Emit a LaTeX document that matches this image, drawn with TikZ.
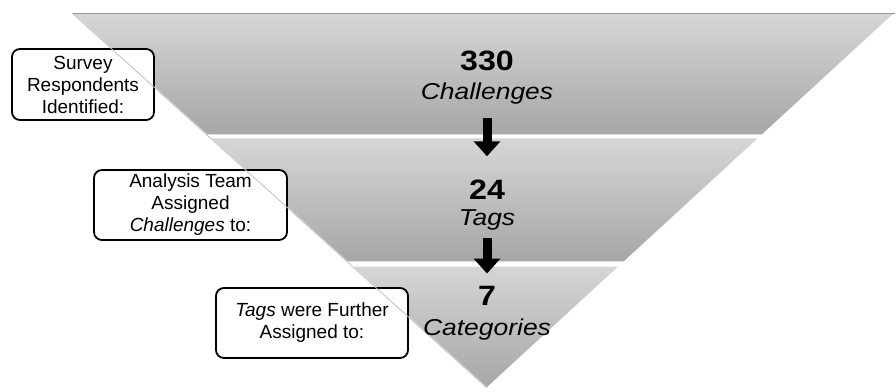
\documentclass[tikz,border=0pt]{standalone}
\usepackage{fontspec}
\setmainfont{Liberation Sans}
\newfontfamily\widefont[FakeStretch=1.15]{Liberation Sans}
\usetikzlibrary{arrows.meta,calc,positioning}

\definecolor{bandlight}{RGB}{214,214,214}
\definecolor{banddark}{RGB}{166,166,166}
\definecolor{edgegray}{RGB}{150,150,150}

\tikzset{
  band/.style={top color=bandlight, bottom color=banddark, draw=white, line width=1.2pt},
  labelbox/.style={draw=black, line width=1.8pt, rounded corners=8pt, fill=white,
    align=center, inner sep=0pt, font=\fontsize{19}{22}\selectfont},
  count/.style={anchor=base, inner sep=0pt, font=\widefont\bfseries\fontsize{28}{30}\selectfont},
  what/.style={anchor=base, inner sep=0pt, font=\widefont\itshape\fontsize{23}{26}\selectfont},
  downarrow/.style={line width=9pt, -{Triangle[width=26pt,length=15pt]}},
}

\begin{document}
\begin{tikzpicture}[x=1pt,y=-1pt]
    \useasboundingbox (0,0) rectangle (896,391);
    \coordinate (tl) at (72,13);
    \coordinate (tr) at (895,13);
    \coordinate (apex) at (487,388);

    % funnel bands
    \path[band] (tl) -- (tr) -- ($(tr)!0.325!(apex)$) -- ($(tl)!0.325!(apex)$) -- cycle;
    \path[band] ($(tl)!0.333!(apex)$) -- ($(tr)!0.333!(apex)$) -- ($(tr)!0.664!(apex)$) -- ($(tl)!0.664!(apex)$) -- cycle;
    \path[band] ($(tl)!0.675!(apex)$) -- ($(tr)!0.675!(apex)$) -- (apex) -- cycle;
    \draw[edgegray, line width=1pt] (tl) -- (tr);

    % boxes on the left
    \node[labelbox, minimum width=142pt, minimum height=71pt] (survey) at (83,84.5) {Survey\\Respondents\\Identified:};
    \node[labelbox, minimum width=193pt, minimum height=70pt] (team) at (190.5,205) {Analysis Team\\Assigned\\\textit{Challenges} to:};
    \node[labelbox, minimum width=192pt, minimum height=70pt] (further) at (312,323) {\textit{Tags} were Further\\Assigned to:};
    \draw[edgegray!60, line width=0.8pt] (tl) -- (apex);

    % counts
    \node[count] (n330) at (487,70) {330};
    \node[what] (chal) at (487,99) {Challenges};
    \node[count] (n24) at (487,199) {24};
    \node[what] (tags) at (487,225) {Tags};
    \node[count] (n7) at (487,305) {7};
    \node[what] (cats) at (487,335) {Categories};

    \draw[downarrow, shorten <=14pt, shorten >=23pt] (chal) -- (n24);
    \draw[downarrow, shorten <=8pt, shorten >=12pt] (tags) -- (n7);
\end{tikzpicture}
\end{document}
